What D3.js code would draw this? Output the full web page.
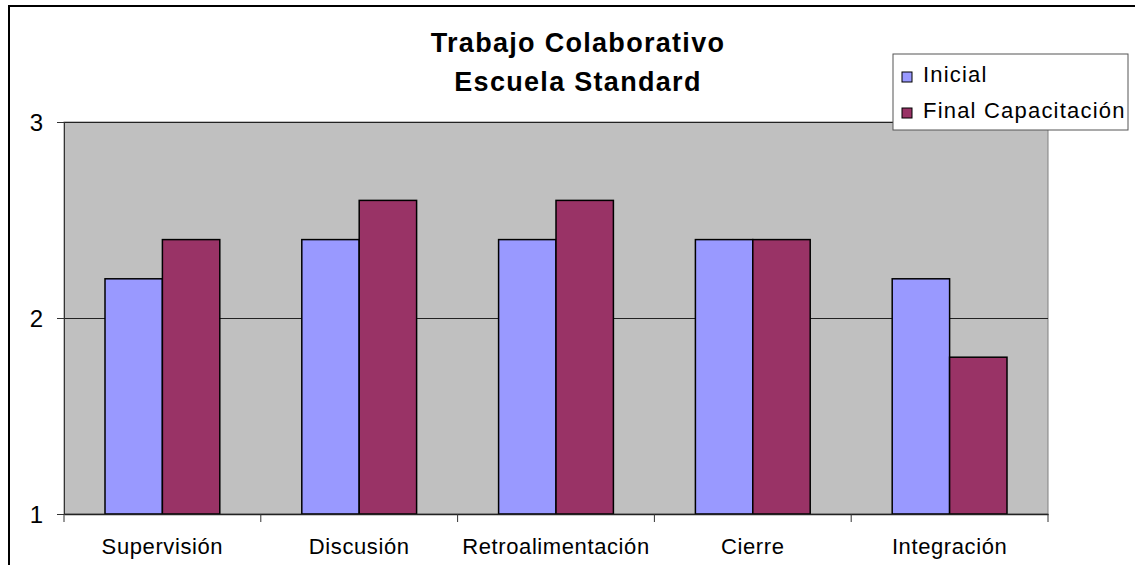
<!DOCTYPE html>
<html>
<head>
<meta charset="utf-8">
<script src="https://cdn.jsdelivr.net/npm/d3@7"></script>
<style>
  body { margin: 0; background: #fff; }
  text { font-family: "Liberation Sans", Arial, sans-serif; }
</style>
</head>
<body>
<div id="chart"></div>
<script>
const categories = ["Supervisión", "Discusión", "Retroalimentación", "Cierre", "Integración"]
const seriesNames = ["Inicial", "Final Capacitación"]
const inicial = [2.2, 2.4, 2.4, 2.4, 2.2]
const finalCap = [2.4, 2.6, 2.6, 2.4, 1.8]
const yTicks = [1, 2, 3]
const colors = ["#9999FF", "#993366"]

const W = 1135, H = 565
const PLOT = { LEFT: 64, RIGHT: 1048, TOP: 122, BOTTOM: 514 }

const svg = d3.select("#chart").append("svg")
    .attr("width", W)
    .attr("height", H)

// outer frame
svg.append("rect")
    .attr("x", 9).attr("y", 6)
    .attr("width", W + 20).attr("height", H + 20)
    .attr("fill", "none").attr("stroke", "#000").attr("stroke-width", 2)

const x0 = d3.scaleBand()
    .domain(categories)
    .range([PLOT.LEFT, PLOT.RIGHT])

const x1 = d3.scaleBand()
    .domain(seriesNames)
    .range([41, x0.bandwidth() - 41])

const y = d3.scaleLinear()
    .domain([1, 3])
    .range([PLOT.BOTTOM, PLOT.TOP])

// plot area
svg.append("rect")
    .attr("x", PLOT.LEFT).attr("y", PLOT.TOP)
    .attr("width", PLOT.RIGHT - PLOT.LEFT).attr("height", PLOT.BOTTOM - PLOT.TOP)
    .attr("fill", "#C0C0C0").attr("stroke", "#808080").attr("stroke-width", 1)

// gridlines
svg.append("g").selectAll("line")
    .data(yTicks.slice(1))
    .join("line")
    .attr("x1", PLOT.LEFT).attr("x2", PLOT.RIGHT)
    .attr("y1", d => y(d) + 0.5).attr("y2", d => y(d) + 0.5)
    .attr("stroke", "#222").attr("stroke-width", 1)

// bars
const rows = categories.map((c, i) => ({ cat: c, vals: [inicial[i], finalCap[i]] }))
svg.append("g").selectAll("g")
    .data(rows)
    .join("g")
    .attr("transform", d => `translate(${x0(d.cat)},0)`)
    .selectAll("rect")
    .data(d => d.vals.map((v, j) => ({ key: seriesNames[j], v, j })))
    .join("rect")
    .attr("x", d => x1(d.key))
    .attr("y", d => y(d.v))
    .attr("width", x1.bandwidth())
    .attr("height", d => y(1) - y(d.v))
    .attr("fill", d => colors[d.j])
    .attr("stroke", "#000").attr("stroke-width", 1.5)

// y axis
const yAxis = svg.append("g")
    .attr("transform", `translate(${PLOT.LEFT},0)`)
    .call(d3.axisLeft(y).tickValues(yTicks).tickFormat(d3.format("d")).tickSize(7).tickPadding(14))
yAxis.select(".domain").attr("stroke", "#333")
yAxis.selectAll("line").attr("stroke", "#333")
yAxis.selectAll("text").attr("font-size", 24).attr("fill", "#000").attr("dy", "0.35em")

// x axis
const xAxis = svg.append("g")
    .attr("transform", `translate(0,${PLOT.BOTTOM})`)
    .call(d3.axisBottom(x0).tickSize(0).tickPadding(0))
xAxis.select(".domain").attr("stroke", "#222").attr("stroke-width", 1.5)
xAxis.selectAll("text")
    .attr("font-size", 22).attr("fill", "#000")
    .attr("letter-spacing", 0.6)
    .attr("y", 40).attr("dy", 0)
svg.append("g").selectAll("line")
    .data(d3.range(categories.length + 1))
    .join("line")
    .attr("x1", i => PLOT.LEFT + i * x0.bandwidth()).attr("x2", i => PLOT.LEFT + i * x0.bandwidth())
    .attr("y1", PLOT.BOTTOM).attr("y2", PLOT.BOTTOM + 8)
    .attr("stroke", "#333")

// title
const titleLines = ["Trabajo Colaborativo", "Escuela Standard"]
svg.append("g").selectAll("text")
    .data(titleLines)
    .join("text")
    .attr("x", 578).attr("y", (d, i) => 52 + i * 39)
    .attr("text-anchor", "middle")
    .attr("font-size", 27).attr("font-weight", "bold")
    .attr("letter-spacing", 1.3)
    .text(d => d)

// legend
const legend = svg.append("g").attr("transform", "translate(893,54)")
legend.append("rect")
    .attr("width", 235).attr("height", 76)
    .attr("fill", "#fff").attr("stroke", "#555")
seriesNames.forEach((s, i) => {
    legend.append("rect")
        .attr("x", 9).attr("y", 18 + i * 36)
        .attr("width", 10).attr("height", 10)
        .attr("fill", colors[i]).attr("stroke", "#000")
    legend.append("text")
        .attr("x", 30).attr("y", 28 + i * 36)
        .attr("font-size", 22)
        .attr("letter-spacing", 1.2)
        .text(s)
})
</script>
</body>
</html>
